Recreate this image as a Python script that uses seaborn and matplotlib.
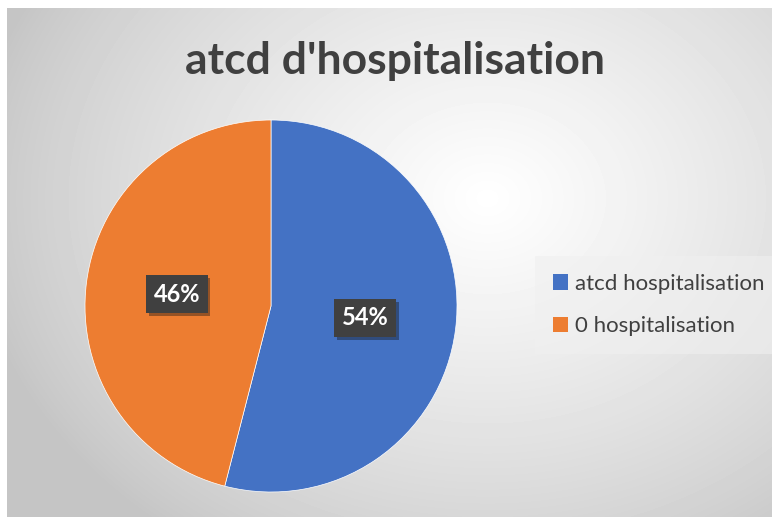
import numpy as np
import matplotlib
matplotlib.use("Agg")
import matplotlib.pyplot as plt
import matplotlib.patheffects as pe
from matplotlib.patches import Patch
import seaborn as sns

# Données
categories = ["atcd hospitalisation", "0 hospitalisation"]
values = [54, 46]
colors = ["#4472C4", "#ED7D31"]
title = "atcd d'hospitalisation"

sns.set_theme(style="white")
plt.rcParams['font.family'] = ['Lato', 'DejaVu Sans']

W, H = 772, 517
fig = plt.figure(figsize=(W / 100, H / 100), dpi=100)
fig.patch.set_facecolor("white")

# Fond en dégradé radial (style Excel)
bg = fig.add_axes([7 / W, 0, 1 - 7 / W, 1 - 8 / H])
yy, xx = np.mgrid[0:509, 0:765]
cx, cy = 480, 190
d = np.sqrt(((xx - cx) / 520) ** 2 + ((yy - cy) / 420) ** 2)
grad = np.clip(1 - d, 0, 1) ** 0.8
shade = 0.77 + 0.23 * grad
bg.imshow(shade, cmap="gray", vmin=0, vmax=1, aspect="auto", interpolation="bilinear")
bg.set_axis_off()

# Titre
fig.text(395 / W, 1 - 61 / H, title, ha="center", va="center",
         fontsize=32, fontweight="bold", color="#404040")

# Camembert
r = 186
ax = fig.add_axes([(271 - r) / W, (H - 306 - r) / H, 2 * r / W, 2 * r / H])
wedges, texts, autotexts = ax.pie(values, colors=colors, startangle=90, counterclock=False,
                                  autopct="%1.0f%%", pctdistance=0.51,
                                  wedgeprops=dict(linewidth=0.5, edgecolor="white"),
                                  textprops=dict(color="white", fontsize=17, fontweight="bold"))
ax.set_xlim(-1, 1)
ax.set_ylim(-1, 1)
ax.set_aspect("equal")
for t in autotexts:
    t.set_bbox(dict(boxstyle="square,pad=0.32", facecolor="#404040", edgecolor="none"))
    t.get_bbox_patch().set_path_effects([pe.withSimplePatchShadow(offset=(2, -2), alpha=0.4)])

# Légende
handles = [Patch(facecolor=c, edgecolor="none") for c in colors]
leg = fig.legend(handles, categories, loc="center left",
                 bbox_to_anchor=(535 / W, 1 - 305 / H), frameon=True, borderaxespad=0,
                 fontsize=16, labelspacing=1.0, handlelength=0.7, handleheight=0.7,
                 handletextpad=0.3, borderpad=0.8, fancybox=False, labelcolor="#404040")
leg.get_frame().set_facecolor("#f0f0f0")
leg.get_frame().set_alpha(0.6)
leg.get_frame().set_edgecolor("none")

fig.savefig("out.png", dpi=100)
